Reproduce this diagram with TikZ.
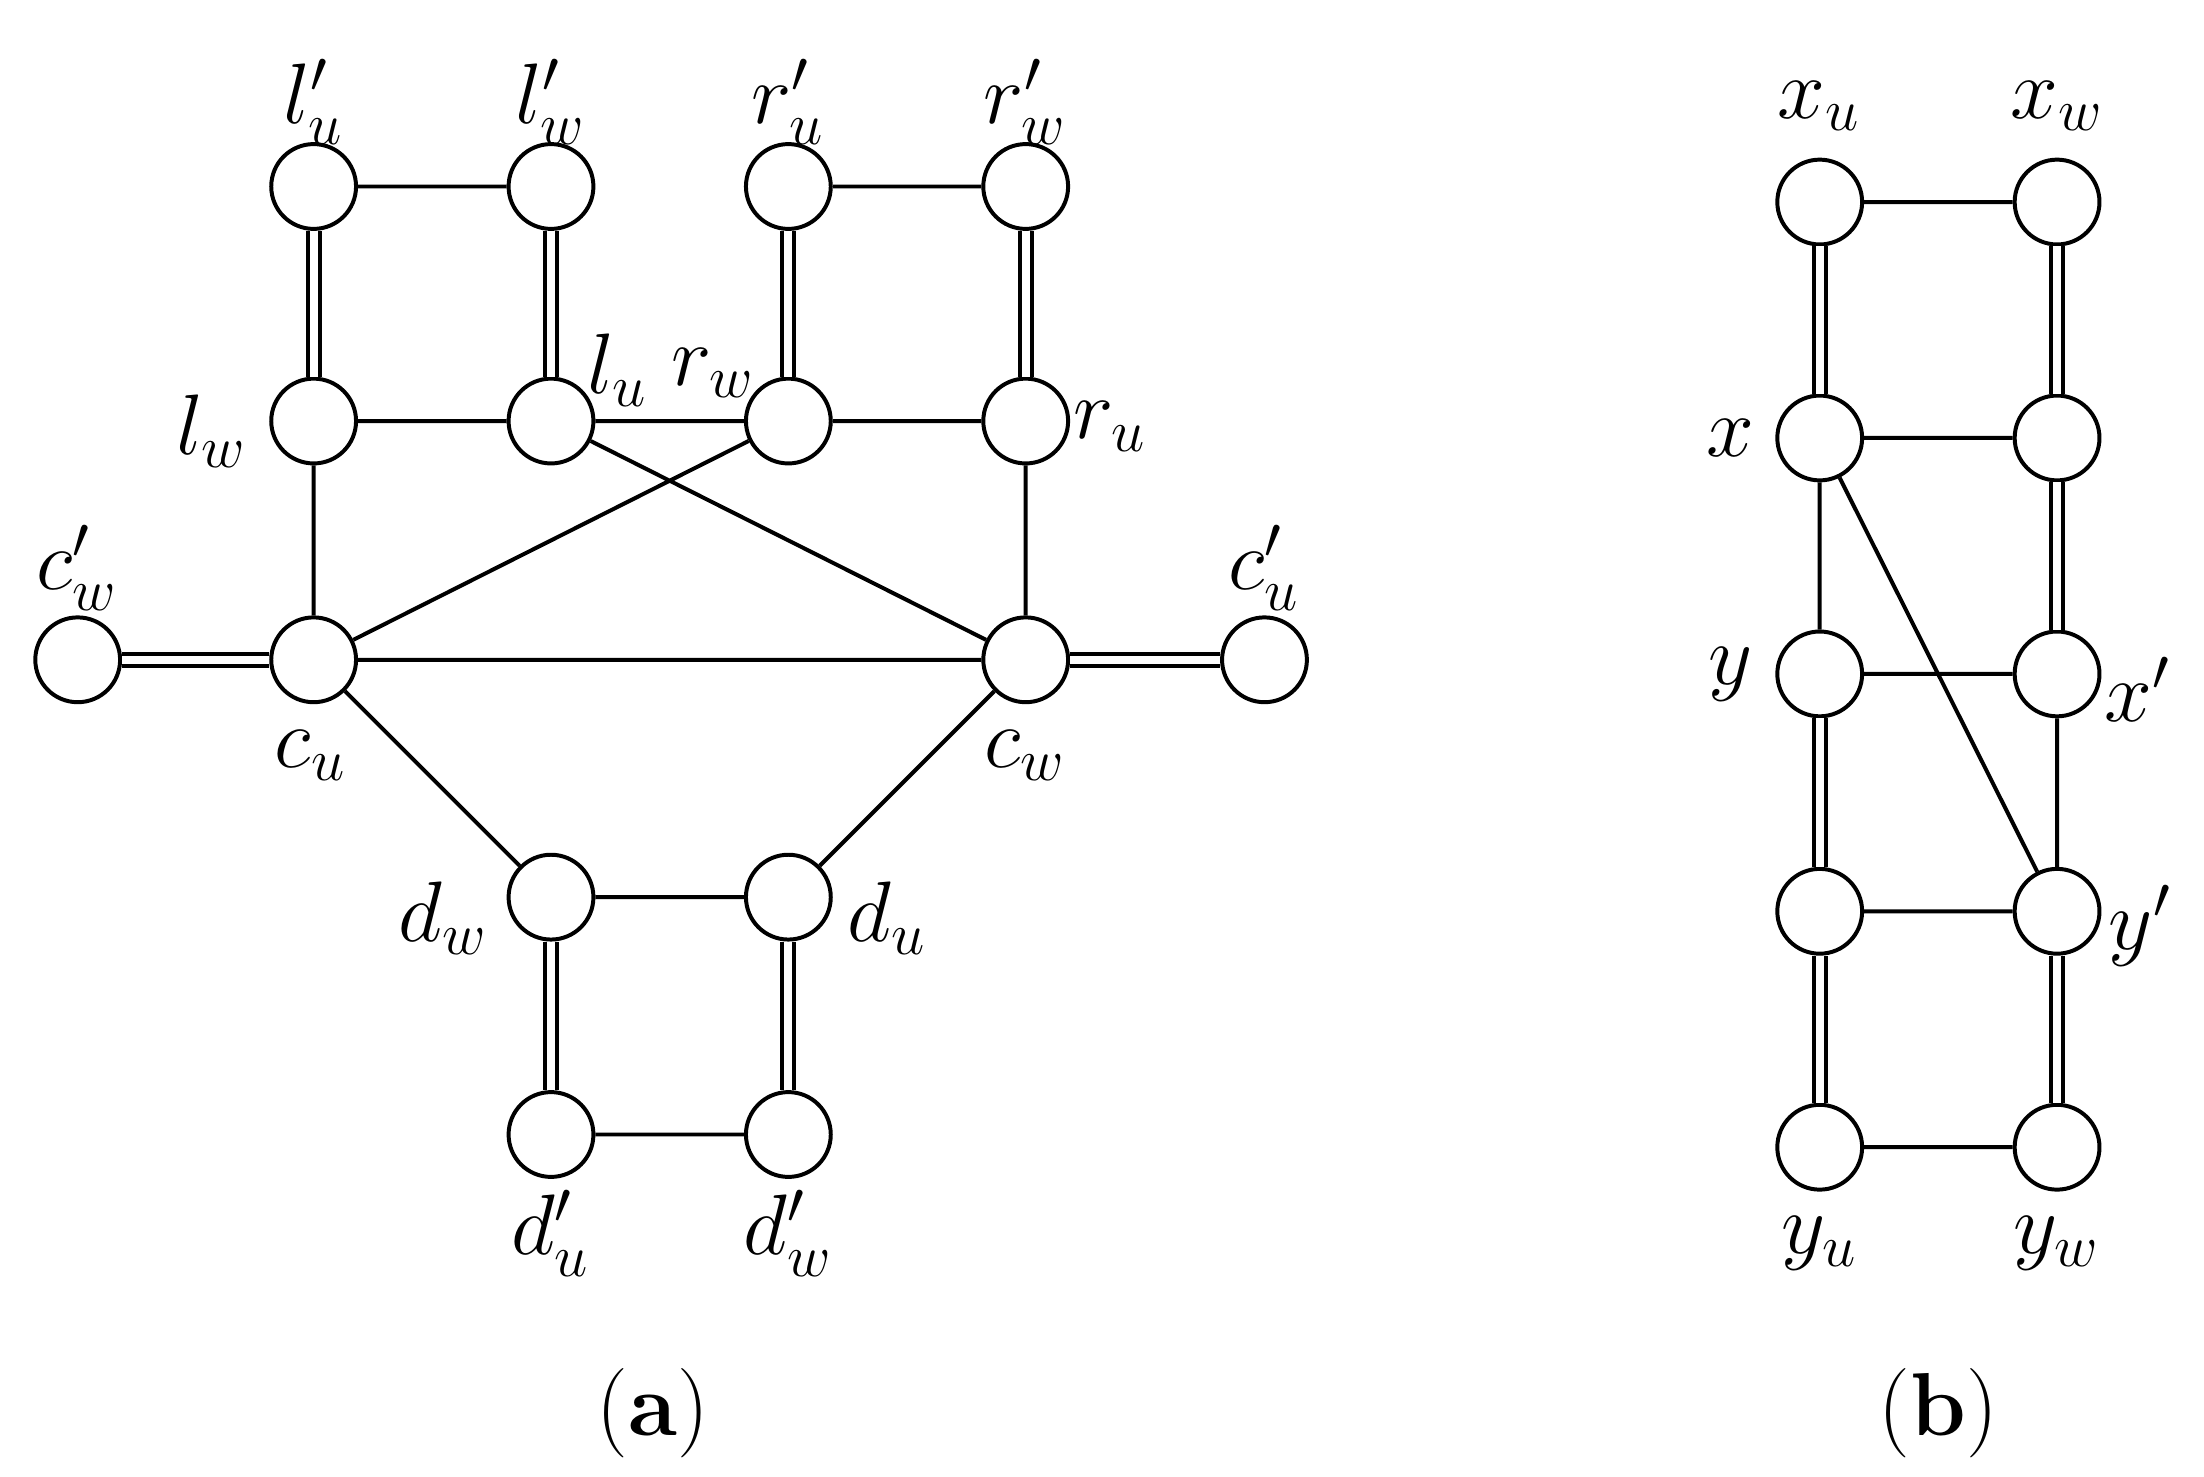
\documentclass[tikz,border=0pt]{standalone}
\begin{document}
\begin{tikzpicture}[x=0.01cm,y=-0.01cm,
  vtx/.style={circle,draw,line width=0.8pt,minimum size=0.6cm,inner sep=0pt,fill=white},
  lab/.style={font=\fontsize{18}{20}\selectfont},
  sg/.style={line width=0.8pt},
  db/.style={line width=0.8pt,double,double distance=1.6pt}]
\useasboundingbox (0,0) rectangle (1560,1045);
% (a)
\node[vtx] (lpu) at (222,132) {};
\node[vtx] (lpw) at (390,132) {};
\node[vtx] (rpu) at (558,132) {};
\node[vtx] (rpw) at (726,132) {};
\node[vtx] (lw) at (222,298) {};
\node[vtx] (lu) at (390,298) {};
\node[vtx] (rw) at (558,298) {};
\node[vtx] (ru) at (726,298) {};
\node[vtx] (cpw) at (55,467) {};
\node[vtx] (cu) at (222,467) {};
\node[vtx] (cw) at (726,467) {};
\node[vtx] (cpu) at (895,467) {};
\node[vtx] (dw) at (390,635) {};
\node[vtx] (du) at (558,635) {};
\node[vtx] (dpu) at (390,803) {};
\node[vtx] (dpw) at (558,803) {};
\begin{scope}[on background layer/.style={}]
\end{scope}
\draw[sg] (lpu)--(lpw) (rpu)--(rpw) (lw)--(lu) (lu)--(rw) (rw)--(ru) (lw)--(cu) (ru)--(cw)
  (cu)--(rw) (lu)--(cw) (cu)--(cw) (cu)--(dw) (cw)--(du) (dw)--(du) (dpu)--(dpw);
\draw[db] (lpu)--(lw) (lpw)--(lu) (rpu)--(rw) (rpw)--(ru) (cpw)--(cu) (cw)--(cpu) (dw)--(dpu) (du)--(dpw);
\node[lab] (t1) at (222,72) {$l'_u$};
\node[lab] (t2) at (390,72) {$l'_w$};
\node[lab] (t3) at (558,72) {$r'_u$};
\node[lab] (t4) at (726,72) {$r'_w$};
\node[lab] (t5) at (150,305) {$l_w$};
\node[lab] (t6) at (437,262) {$l_u$};
\node[lab] (t7) at (505,264) {$r_w$};
\node[lab] (t8) at (786,302) {$r_u$};
\node[lab] (t9) at (55,402) {$c'_w$};
\node[lab] (t10) at (895,402) {$c'_u$};
\node[lab] (t11) at (220,535) {$c_u$};
\node[lab] (t12) at (726,535) {$c_w$};
\node[lab] (t13) at (314,650) {$d_w$};
\node[lab] (t14) at (628,650) {$d_u$};
\node[lab] (t15) at (390,873) {$d'_u$};
\node[lab] (t16) at (558,873) {$d'_w$};
\node[lab] (ca) at (462,1000) {(\textbf{a})};
% (b)
\node[vtx] (xu) at (1288,143) {};
\node[vtx] (xw) at (1456,143) {};
\node[vtx] (x) at (1288,310) {};
\node[vtx] (b2) at (1456,310) {};
\node[vtx] (y) at (1288,477) {};
\node[vtx] (xp) at (1456,477) {};
\node[vtx] (b3) at (1288,645) {};
\node[vtx] (yp) at (1456,645) {};
\node[vtx] (yu) at (1288,812) {};
\node[vtx] (yw) at (1456,812) {};
\draw[sg] (xu)--(xw) (x)--(b2) (x)--(y) (y)--(xp) (x)--(yp) (xp)--(yp) (b3)--(yp) (yu)--(yw);
\draw[db] (xu)--(x) (xw)--(b2) (b2)--(xp) (y)--(b3) (b3)--(yu) (yp)--(yw);
\node[lab] (s1) at (1288,75) {$x_u$};
\node[lab] (s2) at (1456,75) {$x_w$};
\node[lab] (s3) at (1225,310) {$x$};
\node[lab] (s4) at (1225,477) {$y$};
\node[lab] (s5) at (1513,488) {$x'$};
\node[lab] (s6) at (1515,655) {$y'$};
\node[lab] (s7) at (1288,880) {$y_u$};
\node[lab] (s8) at (1456,880) {$y_w$};
\node[lab] (cb) at (1372,1000) {(\textbf{b})};
\end{tikzpicture}
\end{document}
